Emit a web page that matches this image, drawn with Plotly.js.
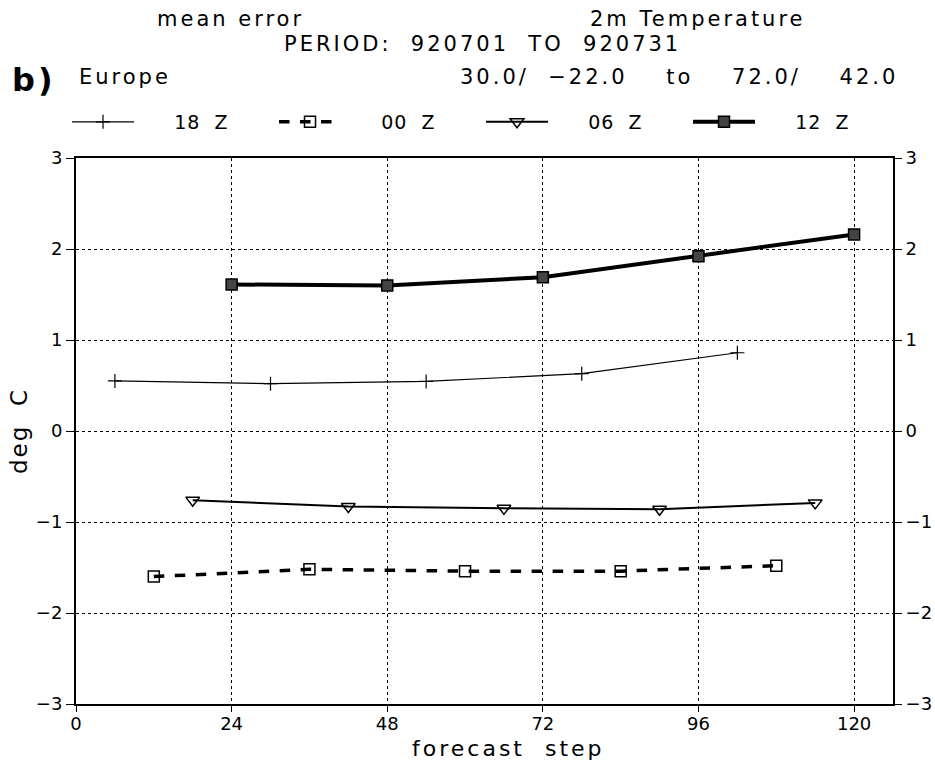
<!DOCTYPE html>
<html>
<head>
<meta charset="utf-8">
<script src="https://cdn.plot.ly/plotly-3.0.1.min.js"></script>
<style>
html,body{margin:0;padding:0;background:#fff;}
#chart{width:935px;height:765px;}
.annotation-text{letter-spacing:3px;}
.legendtext{letter-spacing:1px;}
.ytitle{letter-spacing:2px;}
</style>
</head>
<body>
<div id="chart"></div>
<script>
// Data
const steps18 = [6, 30, 54, 78, 102];
const vals18 = [0.55, 0.52, 0.545, 0.63, 0.86];
const steps00 = [12, 36, 60, 84, 108];
const vals00 = [-1.60, -1.52, -1.54, -1.54, -1.48];
const steps06 = [18, 42, 66, 90, 114];
const vals06 = [-0.76, -0.83, -0.85, -0.86, -0.79];
const steps12 = [24, 48, 72, 96, 120];
const vals12 = [1.61, 1.60, 1.69, 1.92, 2.16];
const xTicks = [0, 24, 48, 72, 96, 120];
const yTicks = [-3, -2, -1, 0, 1, 2, 3];
const yTickLabels = ["\u22123", "\u22122", "\u22121", "0", "1", "2", "3"];
const seriesNames = ["18 Z", "00 Z", "06 Z", "12 Z"];

const FONT = "DejaVu Sans, Liberation Sans, sans-serif";
const pad = "&nbsp;&nbsp;&nbsp;&nbsp;&nbsp;";
const sp = "&nbsp;&nbsp;";
const sp4 = "&nbsp;&nbsp;&nbsp;&nbsp;";
const legName = n => pad + n.replace(" ", sp);

const traces = [
  {x: steps18, y: vals18, name: legName(seriesNames[0]), mode: "lines+markers",
   line: {color: "#000", width: 1.2},
   marker: {symbol: "cross-thin", size: 10, line: {color: "#000", width: 1.2}}},
  {x: steps00, y: vals00, name: legName(seriesNames[1]), mode: "lines+markers",
   line: {color: "#000", width: 3.5, dash: "dash"},
   marker: {symbol: "square-open", size: 11, color: "#000", line: {color: "#000", width: 1.5}}},
  {x: steps06, y: vals06, name: legName(seriesNames[2]), mode: "lines+markers",
   line: {color: "#000", width: 2},
   marker: {symbol: "triangle-down-open", size: 12, color: "#000", line: {color: "#000", width: 1.5}}},
  {x: steps12, y: vals12, name: legName(seriesNames[3]), mode: "lines+markers",
   line: {color: "#000", width: 4},
   marker: {symbol: "square", size: 11, color: "#444", line: {color: "#000", width: 1.5}}},
  {x: [xTicks[0]], y: [yTicks[0]], yaxis: "y2", mode: "markers", showlegend: false,
   hoverinfo: "skip", marker: {opacity: 0}}
];

const ann = (text, x, y, xanchor, size, extra) => Object.assign({
  text: text, x: x, y: y, xref: "paper", yref: "paper", xanchor: xanchor, yanchor: "middle",
  showarrow: false, font: {family: FONT, size: size, color: "#000"}
}, extra || {});

const layout = {
  width: 935, height: 765,
  margin: {l: 76, r: 42, t: 158, b: 61},
  paper_bgcolor: "#fff", plot_bgcolor: "#fff",
  font: {family: FONT, size: 18, color: "#000"},
  showlegend: true,
  legend: {orientation: "h", x: -0.011, xanchor: "left", y: 1.066, yanchor: "middle",
           entrywidth: 130, entrywidthmode: "pixels", itemwidth: 62,
           font: {family: FONT, size: 19},
           bgcolor: "rgba(0,0,0,0)", itemclick: false},
  xaxis: {range: [0, 126], tickvals: xTicks, ticktext: xTicks.map(String),
          showgrid: true, griddash: "dot", gridcolor: "#000", gridwidth: 1,
          showline: true, linecolor: "#000", linewidth: 2, mirror: true,
          ticks: "outside", ticklen: 6, tickcolor: "#000", zeroline: false,
          ticklabelstandoff: -4,
          tickfont: {family: FONT, size: 18}},
  yaxis: {range: [-3, 3], tickvals: yTicks, ticktext: yTickLabels,
          showgrid: true, griddash: "dot", gridcolor: "#000", gridwidth: 1,
          showline: true, linecolor: "#000", linewidth: 2, mirror: true,
          ticks: "outside", ticklen: 8, tickcolor: "#000", zeroline: false,
          tickfont: {family: FONT, size: 18},
          title: {text: "deg" + sp + "C", font: {family: FONT, size: 23}, standoff: 2}},
  yaxis2: {range: [-3, 3], tickvals: yTicks, ticktext: yTickLabels, overlaying: "y", side: "right",
           showgrid: false, zeroline: false, showline: false,
           ticks: "outside", ticklen: 8, tickcolor: "#000",
           tickfont: {family: FONT, size: 18}},
  annotations: [
    ann("mean error", 0.0967, 1.2546, "left", 21),
    ann("2m Temperature", 0.6267, 1.2546, "left", 21),
    ann("PERIOD:" + sp + "920701" + sp + "TO" + sp + "920731", 0.252, 1.209, "left", 21),
    ann("<b>b)</b>", -0.081, 1.143, "left", 32),
    ann("Europe", 0.001, 1.148, "left", 21),
    ann("30.0/" + sp + "−22.0" + sp4 + "to" + sp4 + "72.0/" + sp4 + "42.0", 0.468, 1.148, "left", 21),
    ann("forecast" + sp + "step", 0.529, -0.082, "center", 22)
  ]
};

Plotly.newPlot("chart", traces, layout, {displayModeBar: false, staticPlot: true});
</script>
</body>
</html>
